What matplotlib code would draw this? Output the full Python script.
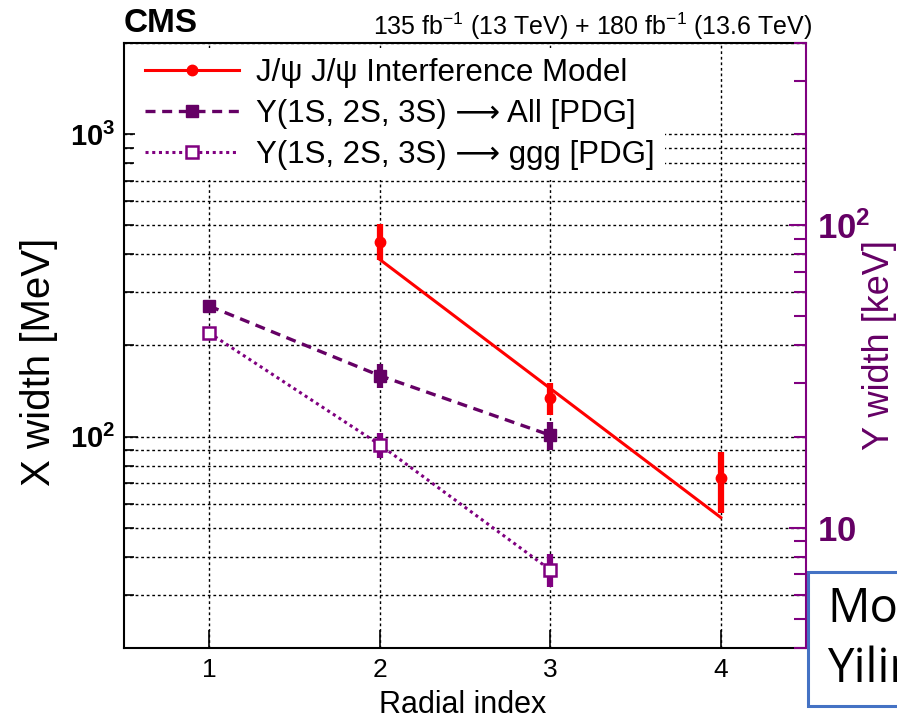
import matplotlib
matplotlib.use("Agg")
import matplotlib.pyplot as plt
from matplotlib.lines import Line2D
from matplotlib.patches import Rectangle
from matplotlib.ticker import LogLocator, NullFormatter

plt.rcParams['font.family'] = ['Liberation Sans', 'DejaVu Sans']
plt.rcParams['mathtext.fontset'] = 'custom'
plt.rcParams['mathtext.rm'] = 'Liberation Sans'
plt.rcParams['mathtext.bf'] = 'Liberation Sans:bold'
plt.rcParams['mathtext.it'] = 'Liberation Sans:italic'

# --- data ---
jpsi_n = [2, 3, 4]
jpsi_width = [441, 134, 73]          # MeV (left axis)
jpsi_err_up = [65, 16, 16]
jpsi_err_dn = [59, 16, 17]

model_n = [2, 4]
model_width = [385, 54]              # MeV, straight line on log scale

ups_n = [1, 2, 3]
ups_all = [54.0, 31.8, 20.2]         # keV (right axis)
ups_all_err = [1.3, 2.9, 2.1]
ups_ggg = [44.0, 18.8, 7.25]         # keV (right axis)
ups_ggg_err = [1.0, 1.8, 0.9]

x_ticks = [1, 2, 3, 4]

RED = '#ff0000'
PURPLE_DARK = '#650065'
PURPLE = '#800080'

fig = plt.figure(figsize=(8.97, 7.19), dpi=100)
ax = fig.add_axes([0.1382, 0.0988, 0.7604, 0.8414])
ax2 = ax.twinx()

# left axis (X width, MeV)
ax.set_yscale('log')
ax.set_ylim(20, 2000)
ax.set_xlim(0.5, 4.5)
ax.set_xticks(x_ticks)
ax.set_xticklabels([str(v) for v in x_ticks], fontsize=19)
ax.set_yticks([100, 1000])
ax.set_yticklabels([r'$\mathbf{10^{2}}$', r'$\mathbf{10^{3}}$'], fontsize=21)
ax.yaxis.set_minor_locator(LogLocator(base=10, subs=range(2, 10)))
ax.yaxis.set_minor_formatter(NullFormatter())
ax.tick_params(axis='y', which='major', direction='in', length=10, width=1.2, pad=6)
ax.tick_params(axis='y', which='minor', direction='in', length=7, width=1.2)
ax.tick_params(axis='x', which='major', direction='in', length=13, width=1.2, pad=7)
ax.grid(True, axis='y', which='both', color='black', linestyle=(0, (2, 2)), linewidth=1.0)
ax.grid(True, axis='x', which='major', color='black', linestyle=(0, (2, 2)), linewidth=1.0)
ax.set_axisbelow(True)
for s in ['left', 'bottom', 'top']:
    ax.spines[s].set_linewidth(1.5)
ax.spines['right'].set_visible(False)

ax.set_xlabel('Radial index', fontsize=22)
ax.xaxis.set_label_coords(0.497, -0.069)
ax.set_ylabel('X width [MeV]', fontsize=29)
ax.yaxis.set_label_coords(-0.097, 0.473)

# J/psi J/psi interference model
ax.plot(model_n, model_width, color=RED, linewidth=2.2, zorder=3)
ax.errorbar(jpsi_n, jpsi_width, yerr=[jpsi_err_dn, jpsi_err_up], fmt='o', color=RED,
            markersize=7.5, elinewidth=4.5, capsize=0, zorder=4)

# right axis (Upsilon width, keV)
ax2.set_yscale('log')
ax2.set_ylim(4, 400)
ax2.set_yticks([10, 100])
ax2.set_yticklabels([r'$\mathbf{10}$', r'$\mathbf{10^{2}}$'], fontsize=25, color=PURPLE_DARK)
ax2.yaxis.set_minor_locator(LogLocator(base=10, subs=range(2, 10)))
ax2.yaxis.set_minor_formatter(NullFormatter())
ax2.tick_params(axis='y', which='major', direction='in', length=12, width=1.5,
                color=PURPLE, pad=8)
ax2.tick_params(axis='y', which='minor', direction='in', length=9, width=1.5, color=PURPLE)
ax2.spines['right'].set_color(PURPLE)
ax2.spines['right'].set_linewidth(1.5)
for s in ['left', 'bottom', 'top']:
    ax2.spines[s].set_visible(False)
ax2.set_ylabel('\u03a5 width [keV]', fontsize=26, color=PURPLE_DARK)
ax2.yaxis.set_label_coords(1.082, 0.50)

ax2.errorbar(ups_n, ups_all, yerr=ups_all_err, fmt='s', linestyle=(0, (3, 2)),
             color=PURPLE_DARK, linewidth=2.4, markersize=8.5, elinewidth=4.5, capsize=0,
             zorder=3)
ax2.errorbar(ups_n, ups_ggg, yerr=ups_ggg_err, fmt='s', linestyle=(0, (1, 1.2)),
             color=PURPLE, linewidth=2.2, markersize=8, markerfacecolor='white',
             markeredgewidth=1.8, elinewidth=4.5, capsize=0, zorder=3)

handles = [
    Line2D([], [], color=RED, linewidth=2.2, marker='o', markersize=7.5),
    Line2D([], [], color=PURPLE_DARK, linewidth=2.4, linestyle=(0, (3, 2)), marker='s',
           markersize=8.5),
    Line2D([], [], color=PURPLE, linewidth=2.2, linestyle=(0, (1, 1.2)), marker='s',
           markersize=8, markerfacecolor='white', markeredgewidth=1.8),
]
labels = ['J/\u03c8 J/\u03c8 Interference Model',
          '\u03a5(1S, 2S, 3S) \u27f6 All [PDG]',
          '\u03a5(1S, 2S, 3S) \u27f6 ggg [PDG]']
leg = ax2.legend(handles, labels, loc='upper left', bbox_to_anchor=(0.01, 1.0),
                 fontsize=22.5, frameon=True, facecolor='white', edgecolor='none',
                 framealpha=1.0, fancybox=False, borderaxespad=0.15, borderpad=0.32,
                 handlelength=3.0, handletextpad=0.55, labelspacing=0.36)
leg.set_zorder(10)

# header
fig.text(0.1382, 0.955, 'CMS', fontsize=24, fontweight='bold', ha='left', va='baseline')
fig.text(0.905, 0.952, r'135 fb$^{-1}$ (13 TeV) + 180 fb$^{-1}$ (13.6 TeV)', fontsize=18,
         ha='right', va='baseline')

# overlaid note box (cut by the figure edge)
fig.patches.append(Rectangle((0.9008, 0.018), 0.2, 0.1865, transform=fig.transFigure,
                             facecolor='white', edgecolor='#4472c4', linewidth=2.2,
                             zorder=5))
fig.text(0.922, 0.135, 'Mo', fontsize=34, family=['Open Sans', 'DejaVu Sans'],
         ha='left', va='baseline', zorder=6)
fig.text(0.922, 0.052, 'Yilin', fontsize=34, family=['Open Sans', 'DejaVu Sans'],
         ha='left', va='baseline', zorder=6)

fig.savefig('out.png', dpi=100)
